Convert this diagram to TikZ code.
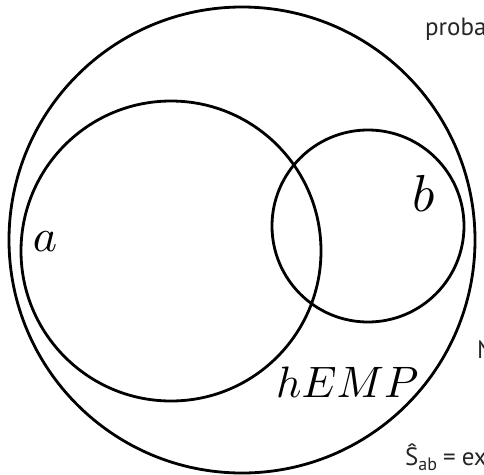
\documentclass[tikz,border=0pt]{standalone}
\usepackage{graphicx}
\usepackage{fontspec}
\newfontfamily\sansfont{PT Sans}
\begin{document}
\begin{tikzpicture}[x=1pt,y=-1pt,
  ring/.style={draw=black,line width=2.8pt},
  lbl/.style={inner sep=0pt},
  side/.style={inner sep=0pt,anchor=base west,font=\sansfont\fontsize{25}{29}\selectfont,text=black!85}]
\useasboundingbox (0,0) rectangle (484,474);
\clip (0,0) rectangle (484,474);
\node[ring,circle,minimum size=466pt,inner sep=0pt] (U) at (242,240) {};
\node[ring,circle,minimum size=300pt,inner sep=0pt] (A) at (171,251) {};
\node[ring,circle,minimum size=192pt,inner sep=0pt] (B) at (368,226) {};
\node[lbl] (la) at (45,242) {\scalebox{4.6}{$a$}};
\node[lbl] (lb) at (424,193) {\scalebox{5.2}{$b$}};
\node[lbl,anchor=base west] (lh) at (276,397) {\scalebox{4.4}{$hEMP$}};
\node[side] (t1) at (425,35) {probab};
\node[side] (t2) at (477,358) {N};
\node[side] (t3) at (405,465) {\^{S}\raisebox{-5pt}{\fontsize{18}{20}\selectfont ab}\hspace{6pt}=\hspace{6pt}ex};
\end{tikzpicture}
\end{document}
